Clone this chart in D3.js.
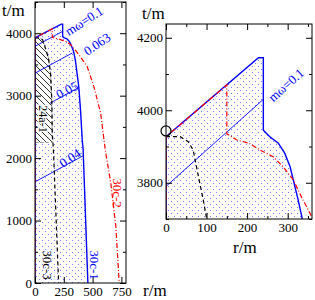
<!DOCTYPE html>
<html>
<head>
<meta charset="utf-8">
<script src="https://cdn.jsdelivr.net/npm/d3@7"></script>
<style>
  body { margin: 0; background: #fff; }
  svg { display: block; }
</style>
</head>
<body>
<div id="chart"></div>
<script>
// all points are [r, t] in units of m

// 30c-1 : blue boundary of the dotted region
var edge30c1 = [[0, 0], [0, 3927], [228, 4145], [240, 4145], [240, 3945], [256, 3927], [277, 3909],
  [293, 3881], [306, 3844], [316, 3798], [326, 3752], [335, 3706], [350, 3574], [380, 3146],
  [395, 2772], [410, 2292], [418, 2131], [459, 0]]

// 30c-2 : red dash-dot
var edge30c2 = [[0, 0], [0, 3927], [150, 4070], [150, 3935], [175, 3918], [205, 3909], [232, 3890],
  [264, 3872], [289, 3844], [314, 3808], [334, 3761], [355, 3716], [380, 3660], [453, 3467],
  [511, 3146], [570, 2720], [599, 2292], [610, 2131], [658, 1598], [702, 902], [731, 0]]

// 30c-3 : black dashed
var edge30c3 = [[0, 3927], [35, 3927], [55, 3913], [67, 3890], [80, 3817], [92, 3752], [100, 3702],
  [117, 3600], [135, 3360], [146, 2930], [150, 2400], [160, 2130], [205, 0]]

// 24a-1 : hatched region
var region24a1 = [[0, 2250], [0, 3927], [35, 3927], [55, 3913], [67, 3890], [80, 3817], [92, 3752],
  [100, 3702], [117, 3600], [135, 3360], [146, 2930], [149, 2250]]

// m omega contour lines (t = r + c)
var contourNames = ["mω=0.1", "0.063", "0.05", "0.04"]
var contourStart = [[0, 3790], [0, 3360], [130, 2880], [0, 1620]]
var contourEnd = [[240, 4030], [325, 3685], [382, 3132], [416, 2036]]

var cornerMark = [[0, 3943]]

// axes
var leftTicksT = [0, 1000, 2000, 3000, 4000]
var leftMinorT = [500, 1500, 2500, 3500, 4500]
var leftTicksR = [0, 250, 500, 750]
var rightTicksT = [3800, 4000, 4200]
var rightMinorT = [3700, 3900, 4100]
var rightTicksR = [0, 100, 200, 300]
var rightMinorR = [50, 150, 250, 350]

var width = 315
var height = 300
var serif = "'Liberation Serif', 'Times New Roman', 'DejaVu Serif', serif"

var svg = d3.select("#chart").append("svg")
  .attr("width", width)
  .attr("height", height)

var defs = svg.append("defs")

var dots = defs.append("pattern")
  .attr("id", "dots")
  .attr("patternUnits", "userSpaceOnUse")
  .attr("width", 6).attr("height", 6)
dots.append("rect").attr("x", 0).attr("y", 0).attr("width", 1).attr("height", 1).attr("fill", "#7a7aff")
dots.append("rect").attr("x", 3).attr("y", 3).attr("width", 1).attr("height", 1).attr("fill", "#7a7aff")

var hatch = defs.append("pattern")
  .attr("id", "hatch")
  .attr("patternUnits", "userSpaceOnUse")
  .attr("width", 6).attr("height", 6)
hatch.append("rect").attr("width", 6).attr("height", 6).attr("fill", "#fff")
hatch.append("path")
  .attr("d", "M0,0L6,6M-1,5L1,7M5,-1L7,1")
  .attr("stroke", "#000")
  .attr("stroke-width", 0.8)

function panel(id, x, y) {
  defs.append("clipPath").attr("id", id)
    .append("rect")
    .attr("x", x.range()[0]).attr("y", y.range()[1])
    .attr("width", x.range()[1] - x.range()[0])
    .attr("height", y.range()[0] - y.range()[1])
  var g = svg.append("g")
  var plot = g.append("g").attr("clip-path", "url(#" + id + ")")
  return { g: g, plot: plot }
}

function lineOf(x, y) {
  return d3.line().x(d => x(d[0])).y(d => y(d[1]))
}

function frame(g, x, y, majT, minT, majR, minR, padY, padX) {
  var x0 = x.range()[0], x1 = x.range()[1], y0 = y.range()[0], y1 = y.range()[1]
  var fmt = d3.format("d")

  var ax = g.append("g").attr("transform", "translate(" + x0 + ",0)")
    .call(d3.axisLeft(y).tickValues(majT).tickSize(-6).tickPadding(padY).tickFormat(fmt))
  ax.append("g").call(d3.axisLeft(y).tickValues(minT).tickSize(-3).tickFormat(""))
  g.append("g").attr("transform", "translate(" + x1 + ",0)")
    .call(d3.axisRight(y).tickValues(majT).tickSize(-6).tickFormat(""))
    .append("g").call(d3.axisRight(y).tickValues(minT).tickSize(-3).tickFormat(""))

  var bx = g.append("g").attr("transform", "translate(0," + y0 + ")")
    .call(d3.axisBottom(x).tickValues(majR).tickSize(-6).tickPadding(padX).tickFormat(fmt))
  var tx = g.append("g").attr("transform", "translate(0," + y1 + ")")
    .call(d3.axisTop(x).tickValues(majR).tickSize(-6).tickFormat(""))
  if (minR) {
    bx.append("g").call(d3.axisBottom(x).tickValues(minR).tickSize(-3).tickFormat(""))
    tx.append("g").call(d3.axisTop(x).tickValues(minR).tickSize(-3).tickFormat(""))
  }

  g.selectAll(".domain").remove()
  g.selectAll(".tick line").attr("stroke", "#000")
  g.selectAll("g").attr("font-family", null).attr("font-size", null)
  g.selectAll("text")
    .attr("font-size", 13)
    .attr("fill", "#000")

  g.append("rect")
    .attr("x", x0).attr("y", y1)
    .attr("width", x1 - x0).attr("height", y0 - y1)
    .attr("fill", "none").attr("stroke", "#000").attr("stroke-width", 1)
}

// ---------- left panel ----------
var xL = d3.scaleLinear().domain([0, 790]).range([35, 126])
var yL = d3.scaleLinear().domain([0, 4500]).range([283, 2])
var L = panel("clipL", xL, yL)
var lineL = lineOf(xL, yL)

L.plot.append("path").attr("d", lineL(edge30c1) + "Z").attr("fill", "url(#dots)")
L.plot.append("path").attr("d", lineL(region24a1) + "Z")
  .attr("fill", "url(#hatch)")
  .attr("stroke", "#888").attr("stroke-width", 0.8).attr("stroke-dasharray", "3,2")

L.plot.selectAll(".contour")
  .data(contourStart)
  .join("line")
  .attr("x1", d => xL(d[0])).attr("y1", d => yL(d[1]))
  .attr("x2", (d, i) => xL(contourEnd[i][0])).attr("y2", (d, i) => yL(contourEnd[i][1]))
  .attr("stroke", "#0000ff").attr("stroke-width", 0.9)

L.plot.append("path").attr("d", lineL(edge30c3))
  .attr("fill", "none").attr("stroke", "#000").attr("stroke-width", 1.2).attr("stroke-dasharray", "4,3")
L.plot.append("path").attr("d", lineL(edge30c1))
  .attr("fill", "none").attr("stroke", "#0000ff").attr("stroke-width", 1.4)
L.plot.append("path").attr("d", lineL(edge30c2))
  .attr("fill", "none").attr("stroke", "#ff0000").attr("stroke-width", 1.2).attr("stroke-dasharray", "5,2,1,2")

frame(L.g, xL, yL, leftTicksT, leftMinorT, leftTicksR, null, 3, 4)

// contour labels, placed next to the end of each line
var labelPos = [[84, 21, -33], [97, 44, -34], [67, 90, -28], [70, 158, -34]]
L.g.selectAll(".clab")
  .data(contourNames)
  .join("text")
  .attr("transform", (d, i) => "translate(" + labelPos[i][0] + "," + labelPos[i][1] + ") rotate(" + labelPos[i][2] + ")")
  .attr("text-anchor", "middle")
  .attr("dominant-baseline", "central")
  .attr("font-size", 13)
  .attr("fill", "#0000ff")
  .text(d => d)

function vlabel(g, x, y, txt, col, size) {
  return g.append("text")
    .attr("transform", "translate(" + x + "," + y + ") rotate(90)")
    .attr("text-anchor", "middle")
    .attr("dominant-baseline", "central")
    .attr("font-size", size)
    .attr("fill", col)
    .text(txt)
}
vlabel(L.g, 47.5, 265, "30c-3", "#000", 13)
vlabel(L.g, 94, 265, "30c-1", "#0000ff", 13)
vlabel(L.g, 117, 193, "30c-2", "#ff0000", 13)
vlabel(L.g, 42.5, 119, "24a-1", "#000", 12)
  .attr("stroke", "#fff").attr("stroke-width", 2.5).attr("paint-order", "stroke")

svg.append("text").attr("x", 2).attr("y", 16).attr("font-size", 17).text("t/m")
svg.append("text").attr("x", 143).attr("y", 296).attr("font-size", 17).text("r/m")

// ---------- right panel ----------
var xR = d3.scaleLinear().domain([0, 360]).range([166, 312])
var yR = d3.scaleLinear().domain([3700, 4238]).range([219, 24])
var R = panel("clipR", xR, yR)
var lineR = lineOf(xR, yR)

R.plot.append("path").attr("d", lineR(edge30c1) + "Z").attr("fill", "url(#dots)")
R.plot.append("line")
  .attr("x1", xR(contourStart[0][0])).attr("y1", yR(contourStart[0][1]))
  .attr("x2", xR(contourEnd[0][0])).attr("y2", yR(contourEnd[0][1]))
  .attr("stroke", "#0000ff").attr("stroke-width", 0.9)
R.plot.append("path").attr("d", lineR(edge30c3))
  .attr("fill", "none").attr("stroke", "#000").attr("stroke-width", 1.2).attr("stroke-dasharray", "4,3")
R.plot.append("path").attr("d", lineR(edge30c1))
  .attr("fill", "none").attr("stroke", "#0000ff").attr("stroke-width", 1.4)
R.plot.append("path").attr("d", lineR(edge30c2))
  .attr("fill", "none").attr("stroke", "#ff0000").attr("stroke-width", 1.2).attr("stroke-dasharray", "5,2,1,2")

frame(R.g, xR, yR, rightTicksT, rightMinorT, rightTicksR, rightMinorR, 3, 4)

R.g.selectAll(".mark")
  .data(cornerMark)
  .join("circle")
  .attr("cx", d => xR(d[0])).attr("cy", d => yR(d[1]))
  .attr("r", 5)
  .attr("fill", "none").attr("stroke", "#000").attr("stroke-width", 1.2)

R.g.append("text")
  .attr("transform", "translate(286,85) rotate(-42)")
  .attr("text-anchor", "middle")
  .attr("dominant-baseline", "central")
  .attr("font-size", 13)
  .attr("fill", "#0000ff")
  .text(contourNames[0])

svg.append("text").attr("x", 142).attr("y", 19).attr("font-size", 17).text("t/m")
svg.append("text").attr("x", 233).attr("y", 253).attr("font-size", 17).text("r/m")

// every label in the serif face
svg.selectAll("text").style("font-family", serif)
</script>
</body>
</html>
